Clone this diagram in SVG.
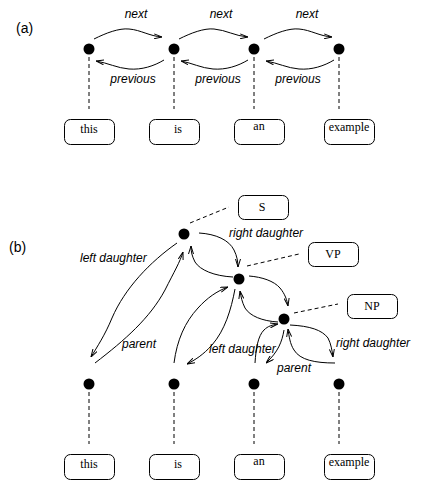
<svg xmlns="http://www.w3.org/2000/svg" width="426" height="491" viewBox="0 0 426 491">
<defs>
<marker id="arr" viewBox="0 0 8 6" refX="8" refY="3" markerWidth="8" markerHeight="6" markerUnits="userSpaceOnUse" orient="auto">
<path d="M0,0.5 L8,3 L0,5.5" fill="none" stroke="#000" stroke-width="1"/>
</marker>
</defs>
<style>
.dot{fill:#000}
.box{fill:#fff;stroke:#000;stroke-width:1}
.word{font-family:"Liberation Serif",serif;font-size:12px;text-anchor:middle;fill:#000}
.lab{font-family:"Liberation Sans",sans-serif;font-size:12px;font-style:italic;fill:#000}
.part{font-family:"Liberation Sans",sans-serif;font-size:14px;fill:#000}
.dash{stroke:#000;stroke-width:1;stroke-dasharray:4,3;fill:none}
.arc{stroke:#000;stroke-width:1;fill:none;marker-end:url(#arr)}
</style>
<rect width="426" height="491" fill="#fff"/>
<text class="part" x="16" y="33">(a)</text>
<text class="part" x="9" y="252">(b)</text>

<g id="connectors">
<!-- (a) dashed -->
<line class="dash" x1="89" y1="57" x2="89" y2="109"/>
<line class="dash" x1="174" y1="57" x2="174" y2="109"/>
<line class="dash" x1="254" y1="57" x2="254" y2="109"/>
<line class="dash" x1="339" y1="57" x2="339" y2="109"/>
<!-- (a) next -->
<path class="arc" d="M94,39 C106,33 119,28 129,29 C141,30 149,36 162,37"/>
<path class="arc" d="M179,39 C191,33 204,28 214,29 C226,30 235,36 248,37"/>
<path class="arc" d="M264,39 C276,33 289,28 299,29 C311,30 319,36 332,37"/>
<!-- (a) previous -->
<path class="arc" d="M164,60 C154,66 142,70 129,69 C117,68 108,63 96,61"/>
<path class="arc" d="M248,60 C238,66 226,70 213,69 C201,68 192,63 181,61"/>
<path class="arc" d="M334,60 C324,66 312,70 299,69 C287,68 278,63 266,61"/>
<!-- (b) leaf dashed -->
<line class="dash" x1="89" y1="392" x2="89" y2="444"/>
<line class="dash" x1="174" y1="392" x2="174" y2="444"/>
<line class="dash" x1="254" y1="392" x2="254" y2="444"/>
<line class="dash" x1="339" y1="392" x2="339" y2="444"/>
<!-- (b) category dashed -->
<line class="dash" x1="190" y1="223" x2="229" y2="207"/>
<line class="dash" x1="247" y1="266" x2="299" y2="254"/>
<line class="dash" x1="294" y1="313" x2="338" y2="304"/>
<!-- (b) arcs -->
<path class="arc" d="M177,243 C150,262 125,288 112,318 C105,335 97,347 91,357"/>
<path class="arc" d="M95,363 C125,340 150,318 165,290 C174,272 180,262 183,252"/>
<path class="arc" d="M199,233 C216,234 229,240 234,250 C237,256 238,262 238,267"/>
<path class="arc" d="M233,277 C214,276 200,270 195,262 C192,256 191,252 191,246"/>
<path class="arc" d="M249,276 C262,277 274,281 280,288 C285,294 287,300 288,306"/>
<path class="arc" d="M278,322 C262,321 250,316 245,308 C242,302 241,297 240,291"/>
<path class="arc" d="M235,289 C231,310 225,330 212,345 C203,355 195,360 187,364"/>
<path class="arc" d="M174,363 C177,340 185,322 198,308 C207,298 217,291 228,287"/>
<path class="arc" d="M255,363 C256,348 258,336 264,330 C268,326 272,325 278,324"/>
<path class="arc" d="M284,330 C282,342 278,352 266,363"/>
<path class="arc" d="M290,325 C310,326 322,330 328,338 C331,344 332,350 333,357"/>
<path class="arc" d="M335,363 C315,363 300,360 294,350 C290,344 289,336 288,329"/>
<!-- labels -->
<text class="lab" x="136" y="18" text-anchor="middle">next</text>
<text class="lab" x="221" y="18" text-anchor="middle">next</text>
<text class="lab" x="307" y="18" text-anchor="middle">next</text>
<text class="lab" x="133" y="83" text-anchor="middle">previous</text>
<text class="lab" x="218" y="83" text-anchor="middle">previous</text>
<text class="lab" x="298" y="83" text-anchor="middle">previous</text>
<text class="lab" x="80" y="262">left daughter</text>
<text class="lab" x="122" y="348">parent</text>
<text class="lab" x="229" y="237">right daughter</text>
<text class="lab" x="209" y="353">left daughter</text>
<text class="lab" x="336" y="347">right daughter</text>
<text class="lab" x="277" y="372">parent</text>
</g>

<g id="a-dot1"><circle class="dot" cx="89" cy="49" r="5.5"/></g>
<g id="a-dot2"><circle class="dot" cx="174" cy="49" r="5.5"/></g>
<g id="a-dot3"><circle class="dot" cx="254" cy="49" r="5.5"/></g>
<g id="a-dot4"><circle class="dot" cx="339" cy="49" r="5.5"/></g>
<g id="a-this"><rect class="box" x="64.5" y="119.5" width="50" height="25" rx="6"/><text class="word" x="89" y="133">this</text></g>
<g id="a-is"><rect class="box" x="149.5" y="119.5" width="50" height="25" rx="6"/><text class="word" x="178" y="133">is</text></g>
<g id="a-an"><rect class="box" x="234.5" y="119.5" width="50" height="25" rx="6"/><text class="word" x="259" y="130">an</text></g>
<g id="a-example"><rect class="box" x="324.5" y="119.5" width="50" height="25" rx="6"/><text class="word" x="349" y="131">example</text></g>

<g id="b-S-dot"><circle class="dot" cx="184" cy="234" r="5.5"/></g>
<g id="b-VP-dot"><circle class="dot" cx="239" cy="279" r="5.5"/></g>
<g id="b-NP-dot"><circle class="dot" cx="284" cy="319" r="5.5"/></g>
<g id="b-S"><rect class="box" x="238.5" y="195.5" width="50" height="24" rx="6"/><text class="word" x="262" y="211">S</text></g>
<g id="b-VP"><rect class="box" x="308.5" y="242.5" width="50" height="24" rx="6"/><text class="word" x="333" y="258">VP</text></g>
<g id="b-NP"><rect class="box" x="347.5" y="294.5" width="50" height="24" rx="6"/><text class="word" x="372" y="310">NP</text></g>
<g id="b-dot1"><circle class="dot" cx="89" cy="384" r="5.5"/></g>
<g id="b-dot2"><circle class="dot" cx="174" cy="384" r="5.5"/></g>
<g id="b-dot3"><circle class="dot" cx="254" cy="384" r="5.5"/></g>
<g id="b-dot4"><circle class="dot" cx="339" cy="384" r="5.5"/></g>
<g id="b-this"><rect class="box" x="64.5" y="454.5" width="50" height="25" rx="6"/><text class="word" x="89" y="468">this</text></g>
<g id="b-is"><rect class="box" x="149.5" y="454.5" width="50" height="25" rx="6"/><text class="word" x="178" y="468">is</text></g>
<g id="b-an"><rect class="box" x="234.5" y="454.5" width="50" height="25" rx="6"/><text class="word" x="259" y="465">an</text></g>
<g id="b-example"><rect class="box" x="324.5" y="454.5" width="50" height="25" rx="6"/><text class="word" x="349" y="466">example</text></g>
</svg>
